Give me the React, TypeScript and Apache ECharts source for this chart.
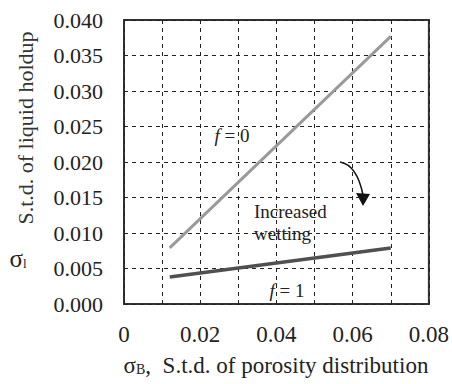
import React, { useEffect, useRef } from "react";
import * as echarts from "echarts";

const xValues = [0.012, 0.07];
const f0Values = [0.0079, 0.0377];
const f1Values = [0.0038, 0.0079];
const serif = "Liberation Serif";

export default function App() {
  const ref = useRef<HTMLDivElement>(null);
  useEffect(() => {
    const chart = echarts.init(ref.current!, null, { renderer: "svg" });
    const txt = (size: number, extra: any = {}) => ({
      fontFamily: serif,
      fontSize: size,
      fill: "#222",
      ...extra,
    });
    chart.setOption({
      animation: false,
      grid: {
        left: 124,
        top: 20,
        right: 20,
        bottom: 80,
        show: true,
        borderColor: "#333",
        borderWidth: 2,
        backgroundColor: "#fff",
      },
      xAxis: {
        type: "value",
        min: 0,
        max: 0.08,
        interval: 0.01,
        axisLine: { show: false },
        axisTick: { show: false },
        splitLine: {
          show: true,
          lineStyle: { color: "#222", type: [4, 4], width: 1 },
        },
        axisLabel: {
          margin: 19,
          fontFamily: serif,
          fontSize: 23,
          color: "#222",
          formatter: (v: number) => {
            const k = Math.round(v * 100);
            if (k % 2 !== 0) return "";
            return k === 0 ? "0" : v.toFixed(2);
          },
        },
      },
      yAxis: {
        type: "value",
        min: 0,
        max: 0.04,
        interval: 0.005,
        axisLine: { show: false },
        axisTick: { show: false },
        splitLine: {
          show: true,
          lineStyle: { color: "#222", type: [4, 4], width: 1 },
        },
        axisLabel: {
          margin: 21,
          fontFamily: serif,
          fontSize: 22,
          color: "#222",
          formatter: (v: number) => v.toFixed(3),
        },
      },
      series: [
        {
          name: "f = 0",
          type: "line",
          data: xValues.map((x, i) => [x, f0Values[i]]),
          symbol: "none",
          lineStyle: { color: "#9a9a9a", width: 3 },
          z: 3,
        },
        {
          name: "f = 1",
          type: "line",
          data: xValues.map((x, i) => [x, f1Values[i]]),
          symbol: "none",
          lineStyle: { color: "#505050", width: 3.5 },
          z: 3,
        },
      ],
      graphic: [
        {
          type: "text",
          x: 232,
          y: 135,
          style: txt(19, {
            text: "{i|f} = 0",
            textAlign: "center",
            textVerticalAlign: "middle",
            rich: { i: txt(19, { fontStyle: "italic" }) },
          }),
        },
        {
          type: "text",
          x: 287,
          y: 290,
          style: txt(19, {
            text: "{i|f} = 1",
            textAlign: "center",
            textVerticalAlign: "middle",
            rich: { i: txt(19, { fontStyle: "italic" }) },
          }),
        },
        {
          type: "text",
          x: 254,
          y: 211,
          style: txt(19, { text: "Increased", textAlign: "left", textVerticalAlign: "middle" }),
        },
        {
          type: "text",
          x: 254,
          y: 233,
          style: txt(19, { text: "wetting", textAlign: "left", textVerticalAlign: "middle" }),
        },
        {
          type: "bezierCurve",
          shape: { x1: 340, y1: 162, cpx1: 357, cpy1: 165, x2: 363, y2: 195 },
          style: { stroke: "#111", lineWidth: 1.5, fill: null },
        },
        {
          type: "polygon",
          shape: { points: [[356, 193], [370, 194], [363, 206]] },
          style: { fill: "#111" },
        },
        {
          type: "text",
          x: 25,
          y: 128,
          rotation: Math.PI / 2,
          style: txt(22, {
            text: "S.t.d. of liquid holdup",
            textAlign: "center",
            textVerticalAlign: "middle",
            fill: "#333",
          }),
        },
        {
          type: "text",
          x: 18,
          y: 258,
          style: {
            text: "{a|σ}{s|l}",
            textAlign: "center",
            textVerticalAlign: "middle",
            rich: {
              a: txt(25),
              s: txt(13, { padding: [10, 0, 0, 0] }),
            },
          },
        },
        {
          type: "text",
          x: 276,
          y: 365,
          style: {
            text: "{a|σ}{s|B}{a|,  S.t.d. of porosity distribution}",
            textAlign: "center",
            textVerticalAlign: "middle",
            rich: {
              a: txt(23),
              s: txt(14, { padding: [8, 0, 0, 0] }),
            },
          },
        },
      ],
    });
    return () => chart.dispose();
  }, []);
  return (
    <div
      ref={ref}
      style={{ position: "absolute", left: 0, top: 0, width: 452, height: 384 }}
    />
  );
}
